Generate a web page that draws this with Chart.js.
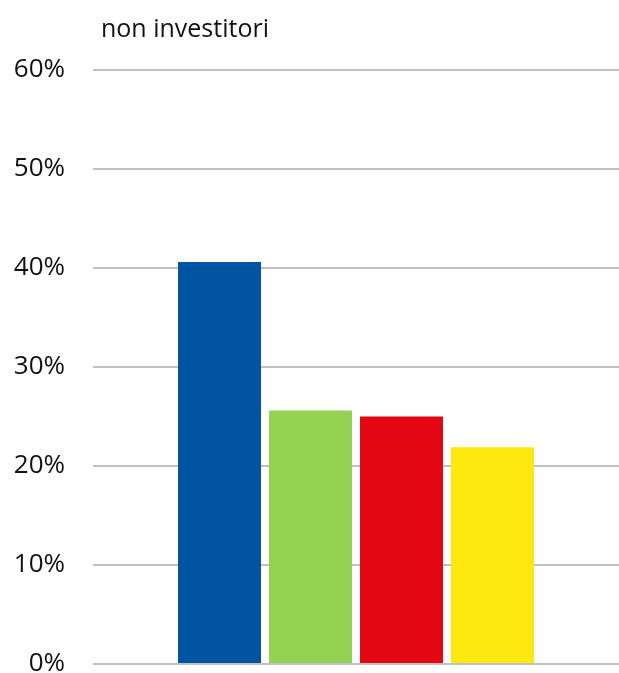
<!DOCTYPE html>
<html>
<head>
<meta charset="utf-8">
<script src="https://cdn.jsdelivr.net/npm/chart.js@4.4.1/dist/chart.umd.min.js"></script>
<style>
  html, body { margin: 0; padding: 0; background: #fff; }
  canvas { display: block; }
</style>
</head>
<body>
<canvas id="chartNonInv" width="619" height="673"></canvas>
<script>
// Share of respondents, non investors group
const chartTitle = 'non investitori';
const categories = [''];
const seriesNames = ['Serie 1', 'Serie 2', 'Serie 3', 'Serie 4'];
const seriesValues = [[0.406], [0.256], [0.250], [0.219]];
const seriesColors = ['#0054a1', '#94d251', '#e30613', '#fde910'];
const tickValues = [0, 0.1, 0.2, 0.3, 0.4, 0.5, 0.6];

// draws the heading just above the plot, aligned near its left edge
const titlePlugin = {
    id: 'leftTitle',
    afterDraw(chart) {
        const ctx = chart.ctx;
        ctx.save();
        ctx.font = '25px "Open Sans"';
        ctx.fillStyle = '#111';
        ctx.textBaseline = 'alphabetic';
        ctx.fillText(chartTitle, chart.chartArea.left + 8, 37);
        ctx.restore();
    }
};

const ctx = document.getElementById('chartNonInv').getContext('2d');
new Chart(ctx, {
    type: 'bar',
    data: {
        labels: categories,
        datasets: seriesNames.map(function (name, i) {
            return {
                label: name,
                data: seriesValues[i],
                backgroundColor: seriesColors[i],
                borderWidth: 0,
                categoryPercentage: 0.692,
                barPercentage: 0.912
            };
        })
    },
    options: {
        responsive: false,
        animation: false,
        layout: { padding: { top: 70, bottom: 9, left: 12, right: 0 } },
        plugins: {
            legend: { display: false },
            tooltip: { enabled: false }
        },
        scales: {
            x: { display: false },
            y: {
                min: 0,
                max: 0.6,
                afterBuildTicks(axis) {
                    axis.ticks = tickValues.map(function (v) { return { value: v }; });
                },
                afterFit(axis) {
                    axis.width = 81;
                    // labels may overhang the plot edges, keep the plot height fixed
                    axis.paddingTop = 0;
                    axis.paddingBottom = 0;
                },
                border: { display: false },
                grid: { color: '#c0c0c0', lineWidth: 2, drawTicks: false },
                ticks: {
                    padding: 28,
                    color: '#111',
                    font: { family: '"Open Sans"', size: 26 },
                    callback: function (v) { return Math.round(v * 100) + '%'; }
                }
            }
        }
    },
    plugins: [titlePlugin]
});
</script>
</body>
</html>
